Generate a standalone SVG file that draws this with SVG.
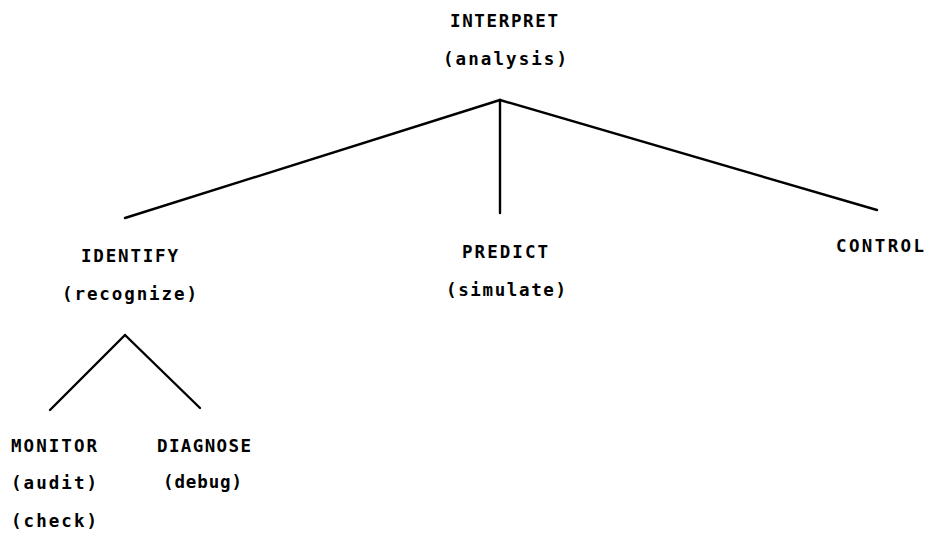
<svg xmlns="http://www.w3.org/2000/svg" width="932" height="537" viewBox="0 0 932 537">
<style>
text{font-family:"DejaVu Sans Mono","Liberation Mono",monospace;font-size:17.5px;font-weight:bold;fill:#000}
.ln{stroke:#000;stroke-width:2.4;fill:none;stroke-linecap:round}
</style>
<rect width="932" height="537" fill="#fff"/>
<g id="connectors">
<line class="ln" x1="500" y1="100" x2="125" y2="218"/>
<line class="ln" x1="500" y1="100" x2="500" y2="213"/>
<line class="ln" x1="500" y1="100" x2="877" y2="210"/>
<line class="ln" x1="125" y1="335" x2="50" y2="410"/>
<line class="ln" x1="125" y1="335" x2="200" y2="408"/>
</g>
<g id="interpret">
<text x="450" y="27" textLength="108" lengthAdjust="spacing">INTERPRET</text>
<text x="443" y="65" textLength="124" lengthAdjust="spacing">(analysis)</text>
</g>
<g id="identify">
<text x="81" y="262" textLength="97" lengthAdjust="spacing">IDENTIFY</text>
<text x="62" y="300" textLength="135" lengthAdjust="spacing">(recognize)</text>
</g>
<g id="predict">
<text x="462" y="258" textLength="86" lengthAdjust="spacing">PREDICT</text>
<text x="446" y="296" textLength="120" lengthAdjust="spacing">(simulate)</text>
</g>
<g id="control">
<text x="836" y="252" textLength="88" lengthAdjust="spacing">CONTROL</text>
</g>
<g id="monitor">
<text x="11" y="452" textLength="86" lengthAdjust="spacing">MONITOR</text>
<text x="11" y="489" textLength="86" lengthAdjust="spacing">(audit)</text>
<text x="11" y="527" textLength="86" lengthAdjust="spacing">(check)</text>
</g>
<g id="diagnose">
<text x="157" y="452" textLength="94" lengthAdjust="spacing">DIAGNOSE</text>
<text x="163" y="488" textLength="79" lengthAdjust="spacing">(debug)</text>
</g>
</svg>
